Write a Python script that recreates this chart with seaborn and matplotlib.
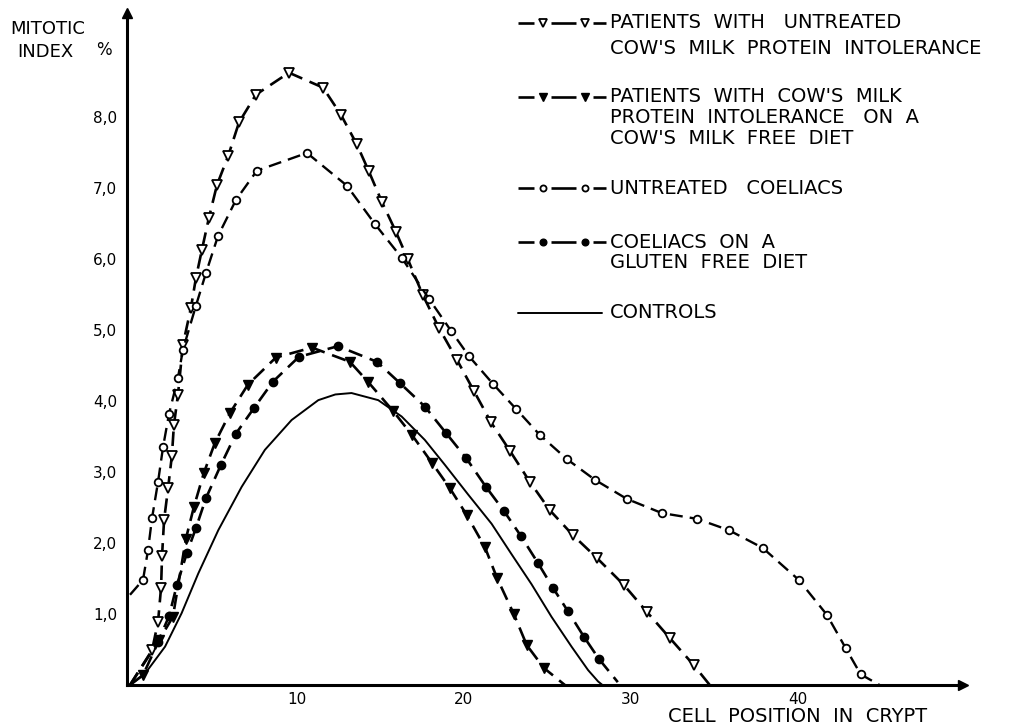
import matplotlib
matplotlib.use("Agg")
import matplotlib.pyplot as plt
import seaborn as sns

# cell position in crypt vs mitotic index (%)
untreated_cmpi_x = [0, 1.32, 1.68, 1.86, 1.92, 2.04, 2.28, 2.51, 2.63, 2.87, 3.17, 3.65, 3.95, 4.31,
                    4.73, 5.21, 5.87, 6.53, 7.54, 9.52, 11.56, 12.63, 13.59, 14.31, 15.09, 15.93,
                    16.65, 17.54, 18.50, 19.58, 20.60, 21.62, 22.75, 23.95, 25.15, 26.53, 27.96,
                    29.58, 30.96, 32.34, 33.77, 34.73]
untreated_cmpi_y = [0, 0.49, 0.89, 1.37, 1.82, 2.32, 2.77, 3.23, 3.66, 4.08, 4.79, 5.31, 5.73, 6.13,
                    6.58, 7.04, 7.44, 7.92, 8.31, 8.62, 8.41, 8.03, 7.61, 7.23, 6.80, 6.38,
                    5.99, 5.49, 5.03, 4.58, 4.14, 3.70, 3.30, 2.86, 2.46, 2.11, 1.79,
                    1.41, 1.03, 0.66, 0.28, 0.0]

diet_cmpi_x = [0, 0.78, 1.74, 2.57, 3.35, 3.83, 4.43, 5.09, 5.99, 7.07, 8.74, 10.90, 13.17, 14.25,
               15.75, 16.89, 18.08, 19.16, 20.18, 21.26, 21.98, 22.99, 23.77, 24.79, 26.05]
diet_cmpi_y = [0, 0.14, 0.63, 0.96, 2.06, 2.51, 2.99, 3.41, 3.83, 4.23, 4.61, 4.75, 4.55, 4.27,
               3.86, 3.52, 3.13, 2.77, 2.39, 1.94, 1.51, 1.00, 0.56, 0.24, 0.0]

untreated_coel_x = [0, 0.78, 1.08, 1.32, 1.68, 1.98, 2.34, 2.87, 3.17, 3.95, 4.55, 5.27, 6.35, 7.60,
                    10.60, 12.99, 14.67, 16.29, 17.90, 19.22, 20.30, 21.74, 23.11, 24.55, 26.17,
                    27.84, 29.76, 31.86, 33.95, 35.87, 37.90, 40.06, 41.74, 42.87, 43.77, 44.9]
untreated_coel_y = [1.27, 1.48, 1.90, 2.35, 2.86, 3.35, 3.82, 4.32, 4.72, 5.34, 5.80, 6.32, 6.83, 7.24,
                    7.49, 7.03, 6.49, 6.01, 5.44, 4.99, 4.63, 4.24, 3.89, 3.52, 3.18,
                    2.89, 2.62, 2.42, 2.34, 2.18, 1.93, 1.48, 0.99, 0.52, 0.15, 0.0]

gfd_coel_x = [0, 1.68, 2.34, 2.81, 3.41, 3.95, 4.55, 5.45, 6.35, 7.43, 8.56, 10.12, 12.46, 14.79,
              16.17, 17.66, 18.92, 20.12, 21.32, 22.40, 23.41, 24.43, 25.33, 26.23, 27.19, 28.08, 29.22]
gfd_coel_y = [0, 0.61, 0.97, 1.41, 1.86, 2.21, 2.63, 3.10, 3.54, 3.90, 4.27, 4.62, 4.77, 4.55,
              4.25, 3.92, 3.55, 3.20, 2.79, 2.45, 2.10, 1.72, 1.37, 1.04, 0.68, 0.37, 0.04]

controls_x = [0, 0.9, 2.10, 3.09, 4.09, 5.29, 6.69, 8.08, 9.68, 11.28, 12.3, 13.27, 14.87, 16.27,
              17.66, 18.86, 20.26, 21.66, 22.86, 24.05, 25.25, 26.45, 27.44, 28.04, 28.3]
controls_y = [0, 0.16, 0.54, 1.01, 1.57, 2.18, 2.79, 3.31, 3.73, 4.01, 4.09, 4.11, 4.01, 3.78,
              3.45, 3.10, 2.68, 2.27, 1.84, 1.42, 0.96, 0.54, 0.21, 0.05, 0.0]

x_ticks = [10, 20, 30, 40]
y_ticks = [1, 2, 3, 4, 5, 6, 7, 8]
y_tick_labels = ["1,0", "2,0", "3,0", "4,0", "5,0", "6,0", "7,0", "8,0"]

DASH = (0, (5.5, 3))
series = [
    (untreated_cmpi_x, untreated_cmpi_y,
     dict(linestyle=DASH, linewidth=1.9, marker="v", markersize=7.5,
          markerfacecolor="white", markeredgewidth=1.3)),
    (diet_cmpi_x, diet_cmpi_y,
     dict(linestyle=DASH, linewidth=1.9, marker="v", markersize=7,
          markerfacecolor="black", markeredgewidth=1.0)),
    (untreated_coel_x, untreated_coel_y,
     dict(linestyle=DASH, linewidth=1.7, marker="o", markersize=5.5,
          markerfacecolor="white", markeredgewidth=1.3)),
    (gfd_coel_x, gfd_coel_y,
     dict(linestyle=DASH, linewidth=1.9, marker="o", markersize=6,
          markerfacecolor="black", markeredgewidth=1.0)),
    (controls_x, controls_y,
     dict(linestyle="-", linewidth=1.4)),
]

sns.set_theme(style="white")
plt.rcParams["font.family"] = ["DejaVu Sans"]
plt.rcParams["text.color"] = "black"

W, H = 1023, 727
fig = plt.figure(figsize=(W / 100, H / 100), dpi=100)
fig.patch.set_facecolor("white")

ax = fig.add_axes([127 / W, (H - 685) / H, (963 - 127) / W, (685 - 13) / H])
ax.set_xlim(-0.18, 49.9)
ax.set_ylim(0, 9.46)

for xs, ys, style in series:
    sns.lineplot(x=xs, y=ys, ax=ax, color="black", markeredgecolor="black",
                 estimator=None, sort=False, markevery=slice(1, -1), **style)

for side in ["top", "right"]:
    ax.spines[side].set_visible(False)
for side in ["left", "bottom"]:
    ax.spines[side].set_linewidth(2.2)
    ax.spines[side].set_color("black")

# arrow heads on the axes
ax.plot(1, 0, ">", transform=ax.transAxes, clip_on=False, color="black", markersize=7)
ax.plot(0, 1, "^", transform=ax.transAxes, clip_on=False, color="black", markersize=7)

ax.set_xticks(x_ticks)
ax.set_xticklabels([str(t) for t in x_ticks])
ax.set_yticks(y_ticks)
ax.set_yticklabels(y_tick_labels)
ax.tick_params(axis="x", direction="out", length=2, width=1.2, pad=3, labelsize=11, colors="black")
ax.tick_params(axis="y", direction="out", length=5, width=1.5, pad=2, labelsize=11, colors="black")
ax.set_xlabel("")
ax.set_ylabel("")
ax.grid(False)

# overlay in pixel coordinates for labels and the legend
ov = fig.add_axes([0, 0, 1, 1], facecolor="none")
ov.set_xlim(0, W)
ov.set_ylim(H, 0)
ov.axis("off")

ov.text(10, 29, "MITOTIC", fontsize=13, va="center", ha="left", color="black")
ov.text(17, 52, "INDEX", fontsize=13, va="center", ha="left", color="black")
ov.text(96, 50, "%", fontsize=12, va="center", ha="left", color="black")
ov.text(668, 717, "CELL  POSITION  IN  CRYPT", fontsize=14, va="center", ha="left", color="black")

legend_rows = [
    (23, series[0][2], ["PATIENTS  WITH   UNTREATED", "COW'S  MILK  PROTEIN  INTOLERANCE"]),
    (97, series[1][2], ["PATIENTS  WITH  COW'S  MILK", "PROTEIN  INTOLERANCE   ON  A",
                        "COW'S  MILK  FREE  DIET"]),
    (188, series[2][2], ["UNTREATED   COELIACS"]),
    (242, series[3][2], ["COELIACS  ON  A", "GLUTEN  FREE  DIET"]),
    (313, series[4][2], ["CONTROLS"]),
]
line_gap = [25, 20.5, 0, 21, 0]
for (y, style, lines), gap in zip(legend_rows, line_gap):
    if style.get("marker"):
        for x0, x1 in [(518, 534), (551, 576), (593, 606)]:
            ov.plot([x0, x1], [y, y], color="black", linewidth=1.9, solid_capstyle="butt")
        ov.plot([543, 585], [y, y], linestyle="none", marker=style["marker"],
                markersize=style["markersize"] * 0.8, markerfacecolor=style["markerfacecolor"],
                markeredgecolor="black", markeredgewidth=style["markeredgewidth"])
    else:
        ov.plot([518, 602], [y, y], color="black", linewidth=1.4)
    for i, txt in enumerate(lines):
        ov.text(610, y + i * gap, txt, fontsize=14, va="center", ha="left", color="black")

fig.savefig("out.png", dpi=100, facecolor="white")
